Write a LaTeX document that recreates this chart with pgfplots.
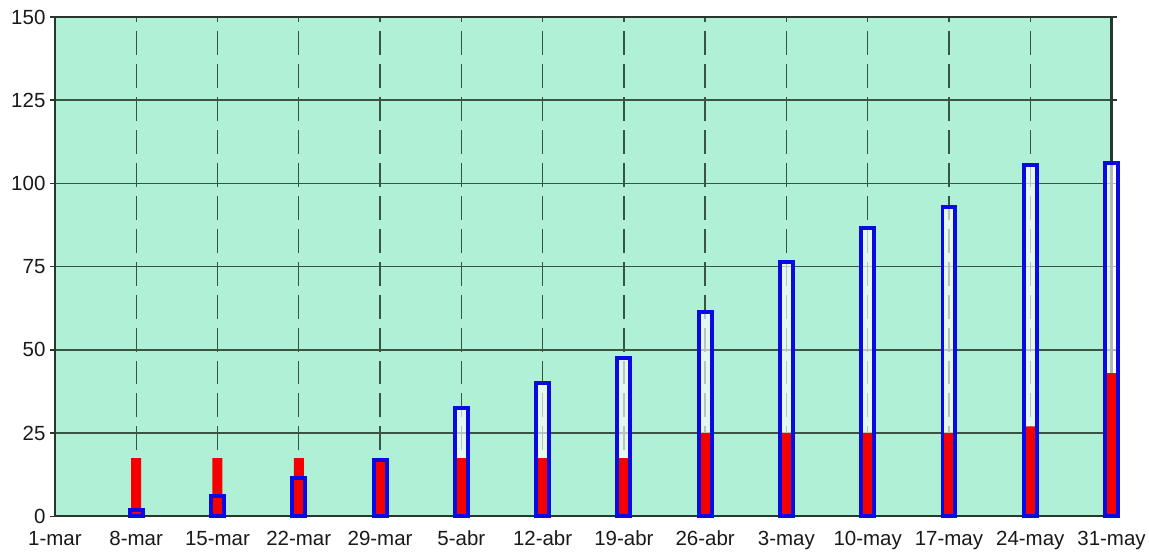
\documentclass[border=0pt]{standalone}
\usepackage{fontspec}
\setmainfont{Liberation Sans}
\usepackage{pgfplots}
\pgfplotsset{compat=1.18}
\definecolor{bg}{RGB}{176,240,214}
\definecolor{gridc}{RGB}{55,85,65}
\definecolor{axc}{RGB}{40,55,45}
\definecolor{bblue}{RGB}{10,10,225}
\definecolor{rred}{RGB}{245,0,0}
\begin{document}
\begin{tikzpicture}
\begin{axis}[
  scale only axis, width=1058pt, height=500pt,
  xmin=0, xmax=13, ymin=0, ymax=150,
  clip=false,
  axis background/.style={fill=bg},
  xtick={0,...,13},
  xticklabels={1-mar,8-mar,15-mar,22-mar,29-mar,5-abr,12-abr,19-abr,26-abr,3-may,10-may,17-may,24-may,31-may},
  ytick={0,25,...,150},
  xmajorgrids, ymajorgrids,
  x grid style={gridc, line width=1.4pt, dash pattern=on 24pt off 9pt},
  y grid style={gridc, line width=1.5pt},
  axis line style={axc, line width=2.2pt},
  xtick style={draw=none},
  ytick style={axc, line width=1.4pt},
  tick align=outside,
  major tick length=5pt,
  tick label style={font=\fontsize{20.5}{24}\selectfont, text=black!90},
  /pgf/number format/assume math mode=true,
  yticklabel style={xshift=-1pt},
  xticklabel style={anchor=base, yshift=-24pt},
]
\addplot[ybar, bar shift=0pt, bar width=13pt, draw=none, fill=white, fill opacity=0.65] coordinates {
(1,2) (2,6) (3,11.5) (4,17) (5,32.5) (6,40) (7,47.5) (8,61.5) (9,76.5) (10,86.5) (11,93) (12,105.5) (13,106)};
\addplot[ybar, bar shift=0pt, bar width=10pt, draw=none, fill=rred] coordinates {
(1,17.5) (2,17.5) (3,17.5) (4,17.5) (5,17.5) (6,17.5) (7,17.5) (8,25) (9,25) (10,25) (11,25) (12,27) (13,43)};
\addplot[ybar, bar shift=0pt, bar width=13pt, draw=bblue, line width=4pt, fill=none] coordinates {
(1,2) (2,6) (3,11.5) (4,17) (5,32.5) (6,40) (7,47.5) (8,61.5) (9,76.5) (10,86.5) (11,93) (12,105.5) (13,106)};
\end{axis}
\path ([xshift=-55pt,yshift=-36pt]current axis.south west) rectangle ([xshift=36pt,yshift=17pt]current axis.north east);
\end{tikzpicture}
\end{document}
